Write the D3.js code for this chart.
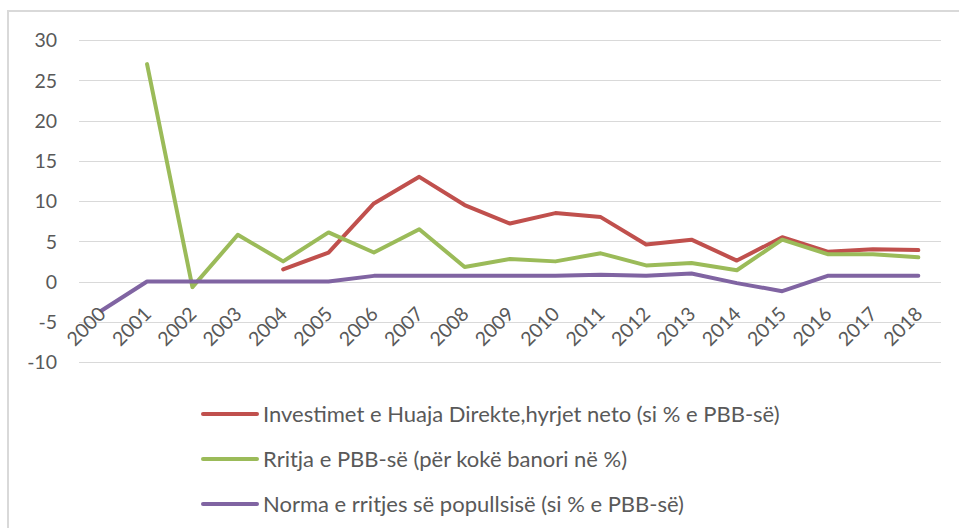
<!DOCTYPE html>
<html>
<head>
<meta charset="utf-8">
<script src="https://cdn.jsdelivr.net/npm/d3@7"></script>
<style>
  body { margin: 0; background: #fff; }
  #chart text { font-family: Lato, "Open Sans", sans-serif; fill: #595959; }
</style>
</head>
<body>
<div id="chart"></div>
<script>
var years = ["2000","2001","2002","2003","2004","2005","2006","2007","2008","2009",
             "2010","2011","2012","2013","2014","2015","2016","2017","2018"];
// Investimet e Huaja Direkte, hyrjet neto (si % e PBB-se)
var fdi = [null, null, null, null, 1.5, 3.6, 9.7, 13.0, 9.5, 7.2,
           8.5, 8.0, 4.6, 5.2, 2.6, 5.5, 3.7, 4.0, 3.9];
// Rritja e PBB-se (per koke banori ne %)
var gdpGrowth = [null, 27.0, -0.7, 5.8, 2.5, 6.1, 3.6, 6.5, 1.8, 2.8,
                 2.5, 3.5, 2.0, 2.3, 1.4, 5.2, 3.4, 3.4, 3.0];
// Norma e rritjes se popullsise
var popGrowth = [-3.6, 0, 0, 0, 0, 0, 0.7, 0.7, 0.7, 0.7,
                 0.7, 0.85, 0.7, 1.0, -0.2, -1.2, 0.7, 0.7, 0.7];
var yTicks = [-10, -5, 0, 5, 10, 15, 20, 25, 30];

var seriesNames = ["Investimet e Huaja Direkte,hyrjet neto (si % e PBB-së)",
                   "Rritja e PBB-së (për kokë banori në %)",
                   "Norma e rritjes së popullsisë (si % e PBB-së)"];
var seriesColors = ["#c0504d", "#9bbb59", "#8064a2"];
var seriesValues = [fdi, gdpGrowth, popGrowth];

var width = 959, height = 528;

var svg = d3.select("#chart").append("svg")
    .attr("width", width)
    .attr("height", height);

// chart area border (only top and left visible in the crop)
svg.append("path")
    .attr("d", "M8,528V11H959")
    .attr("fill", "none")
    .attr("stroke", "#d9d9d9")
    .attr("stroke-width", 2);

var x = d3.scalePoint().domain(years).range([79, 941]).padding(0.5);
var y = d3.scaleLinear().domain([-10, 30]).range([362, 40]);

// gridlines
svg.append("g")
    .selectAll("line")
    .data(yTicks)
  .enter().append("line")
    .attr("x1", 79).attr("x2", 941)
    .attr("y1", function(d) { return Math.round(y(d)) + 0.5; })
    .attr("y2", function(d) { return Math.round(y(d)) + 0.5; })
    .attr("stroke", "#d9d9d9")
    .attr("stroke-width", 1);

// y axis labels (plain hyphen for negatives, like the original)
var yAxis = d3.axisLeft(y).tickValues(yTicks).tickSize(0).tickPadding(0)
    .tickFormat(function(d) { return String(d); });
var gy = svg.append("g")
    .attr("transform", "translate(57,0)")
    .call(yAxis);
gy.select(".domain").remove();
gy.selectAll("text")
    .style("font-size", "19.5px")
    .attr("dy", "0.35em");

// series lines
var line = d3.line()
    .defined(function(d) { return d.v !== null; })
    .x(function(d) { return x(d.year); })
    .y(function(d) { return y(d.v); });

seriesValues.forEach(function(vals, i) {
  var pts = years.map(function(yr, j) { return {year: yr, v: vals[j]}; });
  svg.append("path")
      .datum(pts)
      .attr("fill", "none")
      .attr("stroke", seriesColors[i])
      .attr("stroke-width", 4)
      .attr("stroke-linejoin", "round")
      .attr("stroke-linecap", "round")
      .attr("d", line);
});

// category labels, rotated, drawn on top like in the original
var xAxis = d3.axisBottom(x).tickSize(0).tickPadding(0);
var gx = svg.append("g")
    .attr("transform", "translate(0," + (y(0) + 29) + ")")
    .call(xAxis);
gx.select(".domain").remove();
gx.selectAll("text")
    .style("font-size", "19.5px")
    .style("text-anchor", "end")
    .attr("y", 0)
    .attr("dy", "0.35em")
    .attr("transform", "rotate(-45)");

// legend
var legend = svg.selectAll(".legend")
    .data(seriesNames)
  .enter().append("g")
    .attr("class", "legend")
    .attr("transform", function(d, i) { return "translate(0," + (414 + i * 45) + ")"; });

legend.append("line")
    .attr("x1", 203).attr("x2", 257)
    .attr("y1", 0).attr("y2", 0)
    .attr("stroke", function(d, i) { return seriesColors[i]; })
    .attr("stroke-width", 4)
    .attr("stroke-linecap", "round");

legend.append("text")
    .attr("x", 263)
    .attr("y", 0)
    .attr("dy", "0.35em")
    .style("font-size", "22px")
    .text(function(d) { return d; });
</script>
</body>
</html>
